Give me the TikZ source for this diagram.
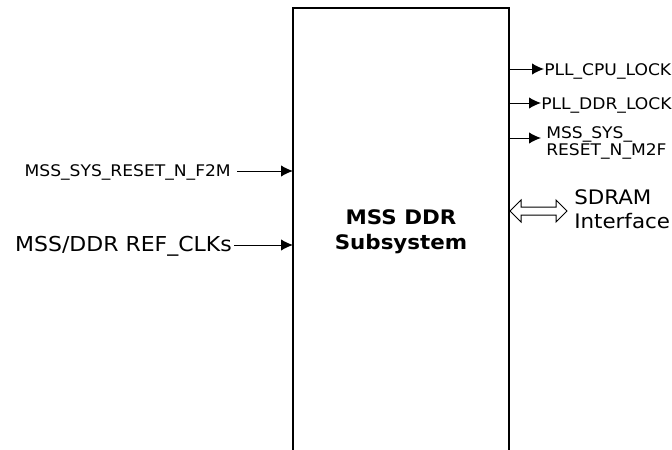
\documentclass[tikz,border=0pt]{standalone}
\usepackage{fontspec}
\setmainfont{DejaVu Sans}[FakeStretch=1.07]
\usetikzlibrary{arrows.meta}
\begin{document}
\begin{tikzpicture}[x=0.75pt,y=-0.75pt,
  sig/.style={line width=0.75pt,-{Latex[length=9pt,width=8.5pt]}},
  small/.style={inner sep=0pt,font=\fontsize{12}{13.3}\selectfont},
  big/.style={inner sep=0pt,font=\fontsize{15.4}{18}\selectfont},
  med/.style={inner sep=0pt,font=\fontsize{15}{18.5}\selectfont},
  title/.style={inner sep=0pt,font=\fontsize{15}{18.75}\selectfont\bfseries}]
\useasboundingbox (0,0) rectangle (672,450);
% block
\draw[line width=1.1pt] (293,450) -- (293,8) -- (509,8) -- (509,450);
\node[title,align=center] (blk) at (401,232) {MSS DDR\\Subsystem};
% left inputs
\node[small,anchor=base east] (f2m) at (231,176.5) {MSS\_SYS\_RESET\_N\_F2M};
\coordinate (f2mIn) at (293,171);
\draw[sig] (f2m.east |- f2mIn) ++(6,0) coordinate (f2mS) -- (f2mIn);
\node[big,anchor=base east] (clk) at (232,251.5) {MSS/DDR REF\_CLKs};
\coordinate (clkIn) at (293,245);
\draw[sig] (clk.east |- clkIn) ++(2,0) coordinate (clkS) -- (clkIn);
% right outputs
\coordinate (cpuO) at (510,69);
\node[small,anchor=base west] (cpu) at (544,75) {PLL\_CPU\_LOCK};
\draw[sig] (cpuO) -- (cpu.west |- cpuO);
\coordinate (ddrO) at (510,103);
\node[small,anchor=base west] (ddr) at (541,109) {PLL\_DDR\_LOCK};
\draw[sig] (ddrO) -- (ddr.west |- ddrO);
\coordinate (m2fO) at (510,138);
\node[small,anchor=north west,align=left,font=\fontsize{12}{13.3}\selectfont] (m2f) at (546,126) {MSS\_SYS\_\\RESET\_N\_M2F};
\draw[sig] (m2fO) -- ++(31,0) coordinate (m2fE);
% SDRAM interface
\draw[line width=0.75pt,fill=white] (510,211) -- (521,200) -- (521,207) -- (556,207) -- (556,200) -- (567,211) -- (556,222) -- (556,215) -- (521,215) -- (521,222) -- cycle;
\node[med,anchor=north west,align=left] (sdram) at (574,189) {SDRAM\\Interface};
\end{tikzpicture}
\end{document}
